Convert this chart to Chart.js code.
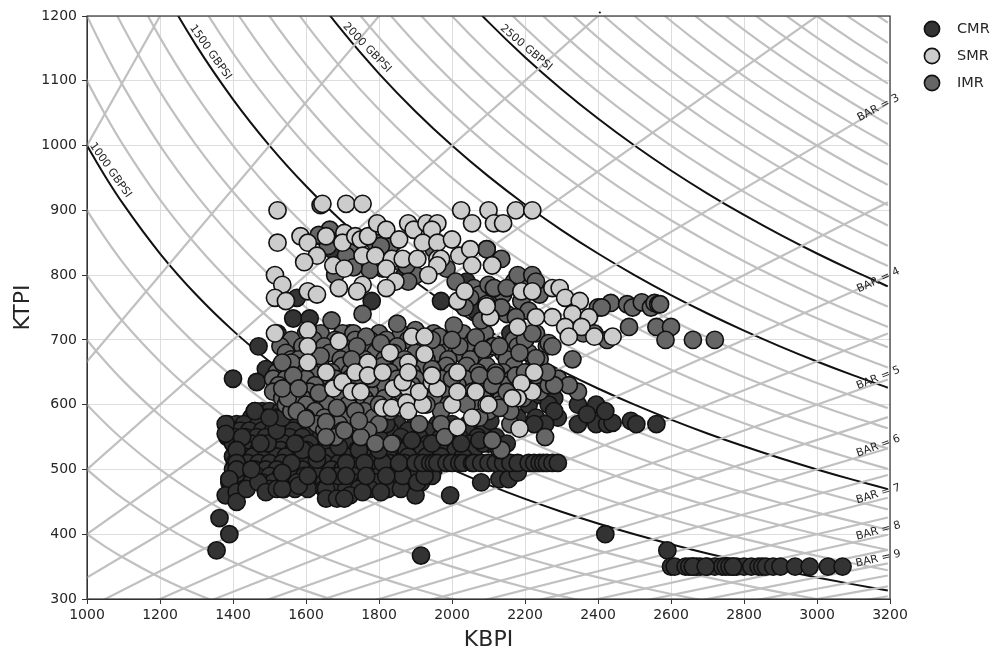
<!DOCTYPE html>
<html>
<head>
<meta charset="utf-8">
<title>KBPI vs KTPI</title>
<script src="https://cdn.jsdelivr.net/npm/chart.js@4/dist/chart.umd.min.js"></script>
<style>
  body { margin: 0; background: #fff; }
  canvas { display: block; }
</style>
</head>
<body>
<canvas id="mapChart" width="994" height="651"></canvas>
<script>
// === Data ===
const xTickValues = [1000, 1200, 1400, 1600, 1800, 2000, 2200, 2400, 2600, 2800, 3000, 3200];
const yTickValues = [300, 400, 500, 600, 700, 800, 900, 1000, 1100, 1200];
const seriesNames = ['CMR', 'SMR', 'IMR'];

// the packed part of the CMR cloud, as [KTPI, [KBPI...]] rows
const cmrRows = [
  [590, [1460,1480,1500,1530,1560,1590,1620,1650]],
  [580, [1450,1490,1520,1555,1585,1610,2180,2290]],
  [570, [1385,1410,1430,1470,1505,1540,1575,1600,1640,1700,1750,1790,1850,1900,1960,2000,2045]],
  [560, [1395,1420,1445,1480,1510,1530,1565,1620,1680,1730,1770,1830,1880,1930,1990,2040,2090]],
  [550, [1385,1405,1435,1465,1490,1525,1555,1590,1640,1700,1760,1800,1860,1910,1970,2020,2070,2120]],
  [540, [1400,1425,1450,1480,1515,1540,1575,1610,1665,1720,1775,1840,1885,1935,1995,2050,2100,2150]],
  [530, [1410,1440,1470,1500,1530,1565,1600,1650,1690,1740,1790,1830,1875,1920,1975,2010,2060]],
  [520, [1400,1430,1455,1490,1520,1545,1585,1620,1665,1710,1750,1785,1825,1880,1930,1970,2030]],
  [510, [1405,1440,1470,1500,1535,1570,1600,1650,1690,1735,1780,1830,1870]],
  [500, [1400,1425,1460,1490,1520,1555,1590,1630,1670,1700,1745,1790,1830,1880,1930,1950]],
  [490, [1410,1440,1465,1500,1530,1560,1595,1630,1680,1730,1770,1800,1840,1880,1905,1945]],
  [480, [1390,1415,1450,1480,1510,1540,1575,1610,1650,1695,1730,1760,1790,1830,1875,1915]],
  [470, [1395,1430,1500,1540,1570,1605,1650,1680,1710,1745,1775,1825,1860]]
];
const cmrPoints = [
  [1355,375],[1363,425],[1390,400],[1915,367],[2420,400],[2590,375],[1995,460],[1900,460],
  [1400,640],[1490,655],[1465,635],[1470,690],[1565,733],[1610,733],[1575,765],[1780,760],[1970,760],
  [1522,710],[1575,675],[1600,655],[1720,710],[1790,700],[2040,790],
  [1780,815],[1810,810],[1840,850],[1820,830],[1870,800],[1670,840],[1640,860],[2065,745],[2160,710],[2170,690],
  [2100,590],[2140,600],[2210,600],[2240,615],[2280,610],
  [1380,570],[1380,555],[1460,590],[1425,550],[1410,530],[1410,510],[1410,500],[1390,485],[1380,460],
  [1410,465],[1410,450],[1437,470],[1470,480],[1490,465],[1520,470],[1535,470],[1580,475],[1605,490],
  [1655,470],[1655,455],[1685,455],[1720,460],[1705,455],[1755,465],[1805,465],[1865,490],[1905,480],
  [1925,490],[1690,490],[1710,510],[1630,515],[1560,510],[1535,495],[1495,540],[1475,540],[1450,500],
  [1520,560],[1535,580],[1500,580],[1590,530],[1570,540],[1630,525],[1690,535],[1745,530],[1760,510],
  [1810,510],[1855,510],[1800,530],[1740,560],[1820,570],[1890,545],[1945,540],[2025,540],[2085,540],
  [1820,490],[1765,490],[1710,490],[1660,490],
  [2345,570],[2395,570],[2425,570],[2440,572],[2490,575],[2505,570],[2560,570],[2345,600],[2395,600],
  [2420,590],[2370,585],[2265,600],[2280,590],[2230,580],[2255,570],[2225,570],[2105,575],[2075,545],
  [2080,480],[2130,485],[2155,485],[2180,495],
  [1900,510],[1920,510],[1940,510],[1950,510],[1960,510],[1985,510],[2000,510],[2020,510],[2030,510],
  [2055,510],[2060,510],[2080,510],[2100,510],[2120,510],[2140,510],[2160,510],[2180,510],[2210,510],
  [2225,510],[2240,510],[2250,510],[2260,510],[2275,510],[2290,510],
  [2600,350],[2610,350],[2640,350],[2650,350],[2660,350],[2670,350],[2680,350],[2700,350],[2720,350],
  [2740,350],[2750,350],[2760,350],[2770,350],[2780,350],[2800,350],[2820,350],[2840,350],[2850,350],
  [2860,350],[2880,350],[2900,350],[2940,350],[2980,350],[3030,350],[3070,350],[2660,350],[2695,350],[2770,350]
];

// the packed part of the IMR cloud, under the SMR points
const imrRows = [
  [710, [1600,1640,1700,1730,1800,1860,1950,2030,2090,2230]],
  [700, [1560,1620,1680,1735,1775,1820,1880,1985,2060,2170,2200]],
  [690, [1530,1590,1650,1700,1760,1850,1910,1970,2040,2110,2180,2260]],
  [680, [1545,1610,1665,1720,1790,1840,1900,1960,2020,2080,2140,2210]],
  [670, [1560,1580,1630,1695,1760,1815,1870,1930,1990,2050,2150,2240]],
  [660, [1530,1575,1640,1700,1750,1810,1860,1925,1985,2040,2095,2170,2225]],
  [650, [1520,1555,1615,1670,1720,1775,1830,1890,1950,2000,2070,2140,2210]],
  [640, [1510,1545,1600,1660,1720,1790,1850,1900,1970,2035,2100,2165,2240,2290]],
  [630, [1525,1570,1625,1690,1745,1810,1890,1950,2015,2090,2145,2195]],
  [620, [1510,1560,1610,1660,1710,1775,1860,1925,1990,2055,2120,2180,2240]],
  [610, [1535,1590,1640,1690,1760,1815,1880,1950,2020,2085,2135,2195]],
  [600, [1545,1600,1660,1715,1780,1850,1920,1990,2055,2130]],
  [590, [1560,1625,1690,1760,1830,1970,2100]],
  [580, [1600,1650,1720,1785]],
  [570, [1630,1690,1745,1800]],
  [560, [1650,1700,1770]],
  [550, [1680,1750]]
];
const imrPoints = [
  [1660,845],[1690,860],[1720,840],[1760,820],[1790,850],[1830,845],[1860,820],[1900,800],[1950,840],
  [1985,810],[2010,790],[1680,800],[2060,780],[2075,770],[2110,760],[2140,770],[2170,790],[2195,780],
  [2150,740],[2080,730],[2190,760],[2210,745],[2240,770],
  [1640,908],[1665,870],[1635,862],[1710,830],[1805,845],[1775,808],[1730,812],[1875,815],[2095,840],
  [1880,790],[1755,740],[1670,730],[1850,725],[2005,722],[1900,715],[2065,704],[2095,685],
  [1765,705],[1740,690],[1805,695],[1640,675],[1560,665],[1535,665],[1725,670],[1965,705],[2020,690],
  [1945,700],[2000,700],[2115,690],[2050,765],[2035,750],[2100,785],[2115,780],
  [2095,840],[2135,825],[2180,800],[2220,800],[2230,790],[2115,780],[2150,780],[2135,750],[2175,735],
  [2200,700],[2130,690],[2265,695],[2275,690],[2330,670],[2230,672],[2185,680],[2085,685],[2120,650],
  [2220,710],[2400,750],[2435,757],[2410,750],[2480,755],[2495,750],[2520,758],[2545,750],[2555,757],
  [2565,755],[2570,755],[2485,720],[2560,720],[2600,720],[2585,700],[2660,700],[2720,700],[2425,700],
  [2360,710],[2390,710],[2320,710],
  [1550,610],[1535,625],[1565,645],[1580,625],[1635,618],[1575,590],[1600,578],[1655,573],[1655,550],
  [1685,595],[1735,590],[1705,560],[1745,575],[1790,540],[1835,540],[1910,570],[1970,570],[1980,550],
  [2110,545],[2130,530],[2075,595],[2110,630],[2075,645],[1945,655],
  [2135,530],[2110,545],[2255,550],[2160,570],[2345,620],[2320,630],[2265,630],[2280,630],[2110,630],
  [2150,620],[2160,590],[2075,580],[2130,595],[2120,645],[2175,645],[2200,650],[2260,650],
  [1680,640],[1730,620],[1780,640],[1860,620],[1930,600],[2000,640],[2040,600],[1800,600]
];

const smrPoints = [
  [1522,900],[1645,910],[1710,910],[1755,910],[2025,900],[2100,900],[2175,900],[2220,900],
  [1522,850],[1585,860],[1605,850],[1655,860],[1630,830],[1595,820],[1705,865],[1700,850],[1735,860],
  [1750,855],[1770,860],[1795,880],[1820,870],[1855,855],[1880,880],[1895,870],[1930,880],[1960,880],
  [1945,870],[1920,850],[1960,850],[2000,855],[2055,880],[2115,880],[2140,880],[2110,815],
  [1755,830],[1790,830],[1835,825],[1820,810],[1865,825],[1905,825],[1960,825],[1970,825],[1960,815],
  [2020,830],[2050,840],[2055,815],[2110,815],[1675,815],[1705,810],[1935,800],[1755,785],[1845,790],
  [1515,800],[1535,785],[1605,775],[1630,770],[1515,765],[1545,760],[1690,780],[1740,775],[1820,780],
  [2015,760],[2035,775],[2095,755],[2105,735],
  [2190,775],[2220,775],[2275,780],[2295,780],[2310,765],[2350,760],[2330,740],[2375,735],[2275,735],
  [2310,720],[2355,720],[2390,705],[2440,705],[2320,705],[2230,735],[2180,720],[2105,735],[2095,752],
  [1515,710],[1605,715],[1605,690],[1690,698],[1605,665],[1890,705],[1925,705],[1925,678],
  [1830,680],[1880,665],[1770,665],[1655,650],[1675,625],[1700,635],[1735,650],[1770,645],[1725,620],
  [1750,620],[1840,625],[1880,625],[1865,635],[1810,595],[1835,595],[1875,603],[1880,590],[1920,600],
  [1910,620],[1945,635],[1960,625],[2000,600],[2015,620],[2015,650],[2065,620],[2095,600],[2015,565],
  [2055,580],[1880,650],[1810,650],[1945,645],
  [2225,650],[2220,620],[2190,633],[2180,610],[2165,610],[2100,600],[2185,563]
];

const gbpsiMajorLevels = [1000, 1500, 2000, 2500];
const gbpsiMinorLevels = [300, 400, 500, 600, 700, 800, 900, 1100, 1200, 1300, 1400, 1600, 1700, 1800, 1900,
  2100, 2200, 2300, 2400, 2600, 2700, 2800, 2900, 3000, 3100, 3200, 3300, 3400, 3500, 3600, 3700, 3800];
const barLevels = [1, 1.5, 2, 2.5, 3, 3.5, 4, 4.5, 5, 5.5, 6, 6.5, 7, 7.5, 8, 8.5, 9, 9.5, 10, 10.5];
const curveKbpi = [800, 850, 900, 950, 1000, 1050, 1100, 1200, 1300, 1400, 1500, 1600, 1700, 1800, 1900, 2000,
  2100, 2200, 2300, 2400, 2500, 2600, 2700, 2800, 2900, 3000, 3100, 3194];
const barKbpi = [300, 3194];

const gbpsiLabels = [
  { text: '1000 GBPSI', x: 1064, y: 962, angle: 55 },
  { text: '1500 GBPSI', x: 1338, y: 1144, angle: 54.6 },
  { text: '2000 GBPSI', x: 1767, y: 1151, angle: 46 },
  { text: '2500 GBPSI', x: 2203, y: 1151, angle: 40.4 }
];
const barLabels = [
  { text: 'BAR = 3', x: 3168, y: 1058, angle: -28 },
  { text: 'BAR = 4', x: 3168, y: 792, angle: -25 },
  { text: 'BAR = 5', x: 3168, y: 641, angle: -22 },
  { text: 'BAR = 6', x: 3168, y: 536, angle: -20 },
  { text: 'BAR = 7', x: 3168, y: 462, angle: -17 },
  { text: 'BAR = 8', x: 3168, y: 405, angle: -15 },
  { text: 'BAR = 9', x: 3168, y: 362, angle: -13 }
];

// === Styles ===
const FONT = '"DejaVu Sans", sans-serif';
const TEXT_COLOR = '#262626';
const seriesFill = { CMR: '#333333', SMR: '#cccccc', IMR: '#666666' };

const rowsToXY = rows => rows.flatMap(r => r[1].map(x => ({ x: x, y: r[0] })));
const toXY = pts => pts.map(p => ({ x: p[0], y: p[1] }));

function scatterSet(name, pts, order) {
  return {
    label: name,
    data: pts,
    order: order,
    showLine: false,
    pointRadius: 8.6,
    pointBorderWidth: 1.6,
    pointBackgroundColor: seriesFill[name],
    pointBorderColor: '#111111'
  };
}

function guideSet(data, color, width, order) {
  return {
    label: '',
    data: data,
    order: order,
    showLine: true,
    pointRadius: 0,
    borderColor: color,
    borderWidth: width,
    cubicInterpolationMode: 'monotone',
    fill: false
  };
}

const gbpsiCurve = level => curveKbpi.map(x => ({ x: x, y: level * 1000 / x }));
const barLine = level => barKbpi.map(x => ({ x: x, y: x / level }));

// the marks themselves; the higher the order the further back it is drawn
const datasets = [
  scatterSet('CMR', rowsToXY(cmrRows).concat(toXY(cmrPoints)), 3),
  scatterSet('SMR', toXY(smrPoints), 1),
  scatterSet('IMR', rowsToXY(imrRows).concat(toXY(imrPoints)), 2)
];
gbpsiMinorLevels.forEach(l => datasets.push(guideSet(gbpsiCurve(l), '#c0c0c0', 2.2, 10)));
barLevels.forEach(l => datasets.push(guideSet(barLine(l), '#c0c0c0', 2.2, 10)));
gbpsiMajorLevels.forEach(l => datasets.push(guideSet(gbpsiCurve(l), '#111111', 2, 20)));

// === Frame, rotated labels and legend ===
const overlayPlugin = {
  id: 'overlay',
  afterDatasetsDraw(chart) {
    const { ctx, chartArea: a, scales } = chart;
    ctx.save();

    ctx.strokeStyle = '#333333';
    ctx.lineWidth = 1.2;
    ctx.strokeRect(a.left, a.top, a.right - a.left, a.bottom - a.top);

    ctx.font = '11px ' + FONT;
    ctx.fillStyle = TEXT_COLOR;
    ctx.textAlign = 'center';
    ctx.textBaseline = 'middle';
    gbpsiLabels.concat(barLabels).forEach(l => {
      ctx.save();
      ctx.translate(scales.x.getPixelForValue(l.x), scales.y.getPixelForValue(l.y));
      ctx.rotate(l.angle * Math.PI / 180);
      ctx.fillText(l.text, 0, 0);
      ctx.restore();
    });

    // legend
    ctx.font = '14.5px ' + FONT;
    ctx.textAlign = 'left';
    seriesNames.forEach((name, i) => {
      const y = 29 + i * 27;
      ctx.beginPath();
      ctx.arc(932, y, 7.6, 0, Math.PI * 2);
      ctx.fillStyle = seriesFill[name];
      ctx.fill();
      ctx.lineWidth = 1.6;
      ctx.strokeStyle = '#111111';
      ctx.stroke();
      ctx.fillStyle = TEXT_COLOR;
      ctx.fillText(name, 957, y);
    });

    // stray tick above the top edge
    ctx.fillStyle = '#111111';
    ctx.beginPath();
    ctx.arc(scales.x.getPixelForValue(2405), 12.5, 1.1, 0, Math.PI * 2);
    ctx.fill();

    ctx.restore();
  }
};

// === Chart ===
const ctx = document.getElementById('mapChart').getContext('2d');
const mapChart = new Chart(ctx, {
  type: 'scatter',
  data: { datasets: datasets },
  plugins: [overlayPlugin],
  options: {
    responsive: false,
    animation: false,
    layout: { padding: { top: 16, right: 104, left: 0, bottom: 0 } },
    plugins: {
      legend: { display: false },
      tooltip: { enabled: false }
    },
    scales: {
      x: {
        type: 'linear',
        min: 1000,
        max: 3200,
        afterBuildTicks: axis => { axis.ticks = xTickValues.map(v => ({ value: v })); },
        afterFit: axis => { axis.height = 52; },
        grid: { color: '#dddddd', lineWidth: 1, tickLength: 5, tickColor: '#333333' },
        border: { color: '#333333' },
        ticks: { color: TEXT_COLOR, font: { family: FONT, size: 14 }, padding: 3, maxRotation: 0, autoSkip: false, callback: v => String(v) },
        title: { display: true, text: 'KBPI', color: TEXT_COLOR, font: { family: FONT, size: 22 }, padding: { top: 0, bottom: -2 } }
      },
      y: {
        type: 'linear',
        min: 300,
        max: 1200,
        afterBuildTicks: axis => { axis.ticks = yTickValues.map(v => ({ value: v })); },
        afterFit: axis => { axis.width = 87; },
        grid: { color: '#dddddd', lineWidth: 1, tickLength: 5, tickColor: '#333333' },
        border: { color: '#333333' },
        ticks: { color: TEXT_COLOR, font: { family: FONT, size: 14 }, padding: 5, autoSkip: false, callback: v => String(v) },
        title: { display: true, text: 'KTPI', color: TEXT_COLOR, font: { family: FONT, size: 22 }, padding: { top: 10, bottom: 0 } }
      }
    }
  }
});
</script>
</body>
</html>
